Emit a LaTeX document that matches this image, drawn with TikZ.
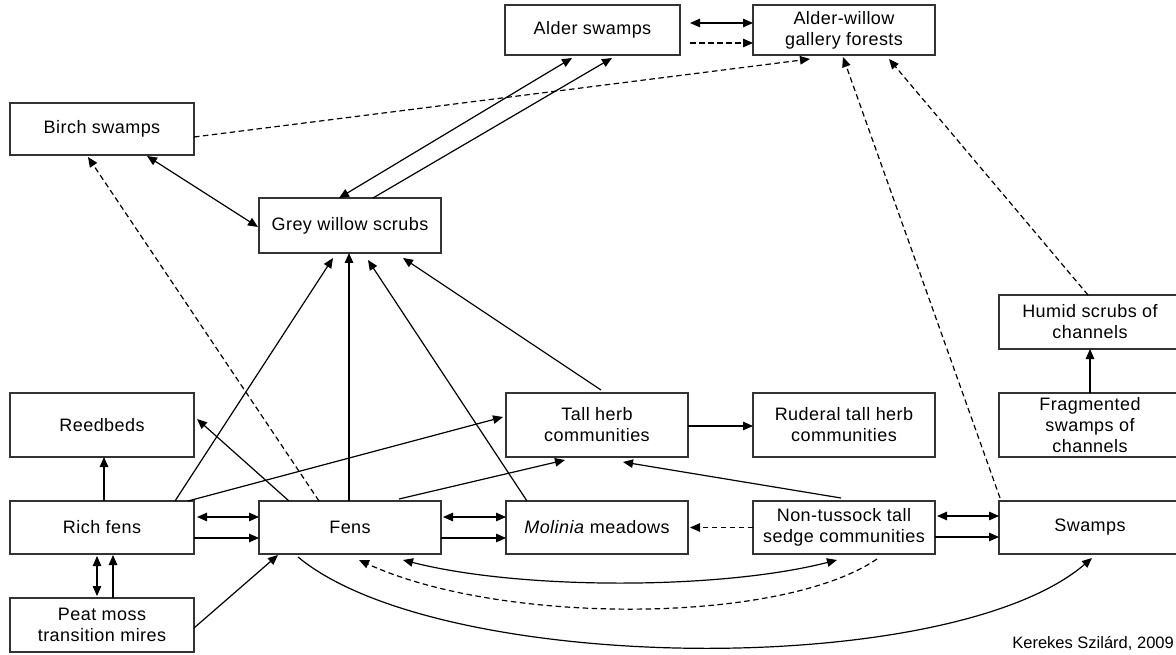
\documentclass[tikz,border=0pt]{standalone}
\usepackage{fontspec}
\setmainfont{Liberation Sans}[LetterSpace=2.5]
\newfontfamily\creditfont{Liberation Sans}
\usetikzlibrary{arrows.meta,calc}
\begin{document}
\begin{tikzpicture}[x=1pt,y=-1pt,
  box/.style={draw=black!80, line width=1.1pt, inner sep=0pt, outer sep=0pt, align=center,
    font=\fontsize{18}{21}\selectfont, fill=white},
  conn/.style={line width=1.2pt, black},
  tip/.tip={Triangle[length=10pt,width=8.5pt]},
  one/.style={conn,-tip},
  both/.style={conn,tip-tip},
  dsh/.style={conn,-tip,dash pattern=on 5.5pt off 3.5pt}]
\useasboundingbox (0,0) rectangle (1176,655);
\fill[white] (0,0) rectangle (1176,655);
% nodes
\node[box, minimum width=175pt, minimum height=50pt] (alder) at (592.5,30) {Alder swamps};
\node[box, minimum width=182pt, minimum height=50pt] (gallery) at (844,30) {Alder-willow\\gallery forests};
\node[box, minimum width=184pt, minimum height=52pt] (birch) at (102,129) {Birch swamps};
\node[box, minimum width=182pt, minimum height=55pt] (grey) at (350,225.5) {Grey willow scrubs};
\node[box, minimum width=182pt, minimum height=54pt] (humid) at (1090,322) {Humid scrubs of\\channels};
\node[box, minimum width=184pt, minimum height=64pt] (reed) at (102,425) {Reedbeds};
\node[box, minimum width=182pt, minimum height=64pt] (tall) at (597,425) {Tall herb\\communities};
\node[box, minimum width=182pt, minimum height=64pt] (ruderal) at (844,425) {Ruderal tall herb\\communities};
\node[box, minimum width=182pt, minimum height=64pt] (frag) at (1090,425) {Fragmented\\swamps of\\channels};
\node[box, minimum width=184pt, minimum height=53pt] (rich) at (102,527.5) {Rich fens};
\node[box, minimum width=182pt, minimum height=53pt] (fens) at (350,527.5) {Fens};
\node[box, minimum width=182pt, minimum height=53pt] (molinia) at (597,527.5) {\textit{Molinia} meadows};
\node[box, minimum width=182pt, minimum height=53pt] (nont) at (844,527.5) {Non-tussock tall\\sedge communities};
\node[box, minimum width=182pt, minimum height=53pt] (swamps) at (1090,527.5) {Swamps};
\node[box, minimum width=184pt, minimum height=54pt] (peat) at (102,625) {Peat moss\\transition mires};
\node[anchor=base east, inner sep=0pt, font=\creditfont\fontsize{16.5}{20}\selectfont] (credit) at (1174,648) {Kerekes Szilárd, 2009};
% top connectors
\draw[both] ($(alder.north east)+(10,18)$) -- ($(gallery.north west)+(0,18)$);
\draw[dsh] ($(alder.north east)+(10,38)$) -- ($(gallery.north west)+(0,38)$);
\draw[both] ($(grey.north west)+(80,0)$) -- ($(alder.south west)+(67,3)$);
\draw[one] ($(grey.north west)+(114,0)$) -- ($(alder.south west)+(107,3)$);
\draw[both] ($(birch.south west)+(137,1)$) -- ($(grey.west)+(-1,1.5)$);
\draw[dsh] ($(birch.east)+(0,8)$) -- ($(gallery.south west)+(57,4)$);
\draw[dsh] ($(fens.north west)+(60,0)$) -- ($(birch.south west)+(78,2)$);
\draw[dsh] ($(swamps.north west)+(1,-3)$) -- ($(gallery.south west)+(90,2)$);
\draw[dsh] ($(humid.north west)+(89,0)$) -- ($(gallery.south west)+(136,4)$);
% middle
\draw[one] ($(rich.north west)+(94,0)$) -- ($(reed.south west)+(94,0)$);
\draw[one] ($(rich.north west)+(165,0)$) -- ($(grey.south west)+(74,5)$);
\draw[one] ($(rich.north west)+(178,0)$) -- ($(tall.west)+(-3,-8)$);
\draw[one] ($(fens.north west)+(90,0)$) -- ($(grey.south west)+(90,0)$);
\draw[one] ($(molinia.north west)+(21,0)$) -- ($(grey.south west)+(109,7)$);
\draw[one] ($(tall.north west)+(95,-3)$) -- ($(grey.south west)+(144,5)$);
\draw[one] ($(fens.north west)+(30,0)$) -- ($(reed.east)+(3,-6)$);
\draw[one] ($(fens.north west)+(140,-2)$) -- ($(tall.south west)+(59,3)$);
\draw[one] ($(nont.north west)+(88,-3)$) -- ($(tall.south west)+(117,5)$);
\draw[one] ($(tall.east)+(0,1)$) -- ($(ruderal.west)+(0,1)$);
\draw[one] (frag.north) -- (humid.south);
% horizontal pairs
\draw[both] ($(rich.north east)+(3,16)$) -- ($(fens.north west)+(0,16)$);
\draw[one] ($(rich.north east)+(0,37)$) -- ($(fens.north west)+(0,37)$);
\draw[both] ($(fens.north east)+(2,16)$) -- ($(molinia.north west)+(0,16)$);
\draw[one] ($(fens.north east)+(0,37)$) -- ($(molinia.north west)+(0,37)$);
\draw[both] ($(nont.north east)+(2,15)$) -- ($(swamps.north west)+(0,15)$);
\draw[one] ($(nont.north east)+(0,36)$) -- ($(swamps.north west)+(0,36)$);
\draw[dsh] (nont.west) -- ($(molinia.east)+(2,0)$);
% rich / peat
\draw[both] ($(rich.south west)+(87,2)$) -- ($(peat.north west)+(87,-2)$);
\draw[one] ($(peat.north west)+(103,0)$) -- ($(rich.south west)+(103,1)$);
\draw[one] ($(peat.east)+(0,3)$) -- ($(fens.south west)+(19,1)$);
% curves
\draw[both] ($(fens.south west)+(144,6)$) .. controls (520,590) and (720,590) .. ($(nont.south west)+(84,6)$);
\draw[dsh] ($(nont.south west)+(124,5)$) .. controls (780,625) and (500,625) .. ($(fens.south west)+(100,6)$);
\draw[one] ($(fens.south west)+(39,3)$) .. controls (440,675) and (950,680) .. ($(swamps.south west)+(93,4)$);
\end{tikzpicture}
\end{document}
